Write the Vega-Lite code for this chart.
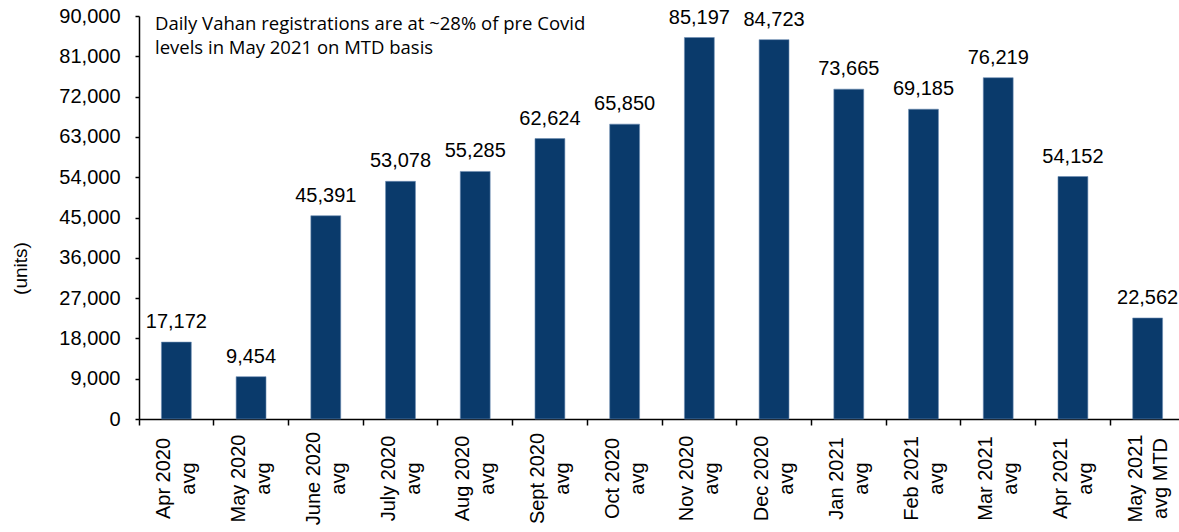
{
  "$schema": "https://vega.github.io/schema/vega-lite/v6.json",
  "width": 1046,
  "height": 403,
  "autosize": {"type": "none"},
  "padding": {"left": 139, "top": 16, "right": 0, "bottom": 113},
  "background": "white",
  "config": {"view": {"stroke": null}},
  "datasets": {
    "bars": [
      {"label": "Apr 2020|avg", "units": 17172},
      {"label": "May 2020|avg", "units": 9454},
      {"label": "June 2020|avg", "units": 45391},
      {"label": "July 2020|avg", "units": 53078},
      {"label": "Aug 2020|avg", "units": 55285},
      {"label": "Sept 2020|avg", "units": 62624},
      {"label": "Oct 2020|avg", "units": 65850},
      {"label": "Nov 2020|avg", "units": 85197},
      {"label": "Dec 2020|avg", "units": 84723},
      {"label": "Jan 2021|avg", "units": 73665},
      {"label": "Feb 2021|avg", "units": 69185},
      {"label": "Mar 2021|avg", "units": 76219},
      {"label": "Apr 2021|avg", "units": 54152},
      {"label": "May 2021|avg MTD", "units": 22562}
    ],
    "note": [
      {"label": "Apr 2020|avg", "units": 90000, "text": "Daily Vahan registrations are at ~28% of pre Covid\nlevels in May 2021 on MTD basis"}
    ]
  },
  "layer": [
    {
      "data": {"name": "bars"},
      "mark": {"type": "bar", "width": {"band": 0.4}, "color": "#0a3a6b", "stroke": "#6d8db3", "strokeWidth": 0.6},
      "encoding": {
        "x": {
          "field": "label", "type": "nominal", "sort": null,
          "scale": {"paddingInner": 0, "paddingOuter": 0},
          "axis": {
            "title": null,
            "bandPosition": 0,
            "labelOffset": -12,
            "labelExpr": "split(datum.label, '|')",
            "labelAngle": 270,
            "labelAlign": "center",
            "labelBaseline": "middle",
            "labelPadding": 53,
            "labelLineHeight": 25,
            "labelFont": "Liberation Sans",
            "labelFontSize": 20,
            "labelColor": "black",
            "labelOverlap": false,
            "labelLimit": 0,
            "tickSize": 6,
            "tickColor": "black",
            "tickWidth": 1.5,
            "domainColor": "black",
            "domainWidth": 1.5,
            "grid": false
          }
        },
        "y": {
          "field": "units", "type": "quantitative",
          "scale": {"domain": [0, 90000]},
          "axis": {
            "values": [0, 9000, 18000, 27000, 36000, 45000, 54000, 63000, 72000, 81000, 90000],
            "format": ",.0f",
            "labelFont": "Liberation Sans",
            "labelFontSize": 20,
            "labelColor": "black",
            "labelPadding": 15,
            "tickSize": 4,
            "tickColor": "black",
            "tickWidth": 1.5,
            "domainColor": "black",
            "domainWidth": 1.5,
            "grid": false,
            "title": "(units)",
            "titleFont": "Liberation Sans",
            "titleFontSize": 19,
            "titleFontWeight": "normal",
            "titleColor": "black",
            "titleAngle": 270,
            "titleAlign": "center",
            "titleBaseline": "middle",
            "titleX": -119,
            "titleY": 252
          }
        }
      }
    },
    {
      "data": {"name": "bars"},
      "mark": {"type": "text", "baseline": "alphabetic", "dy": -14, "font": "Liberation Sans", "fontSize": 20, "color": "black"},
      "encoding": {
        "x": {"field": "label", "type": "nominal", "sort": null},
        "y": {"field": "units", "type": "quantitative"},
        "text": {"field": "units", "type": "quantitative", "format": ","}
      }
    },
    {
      "data": {"name": "note"},
      "mark": {"type": "text", "align": "left", "baseline": "alphabetic", "dx": 16, "dy": 14, "lineBreak": "\n", "lineHeight": 24, "font": "Open Sans", "fontSize": 18.5, "color": "black"},
      "encoding": {
        "x": {"field": "label", "type": "nominal", "sort": null, "bandPosition": 0},
        "y": {"field": "units", "type": "quantitative"},
        "text": {"field": "text", "type": "nominal"}
      }
    }
  ]
}
